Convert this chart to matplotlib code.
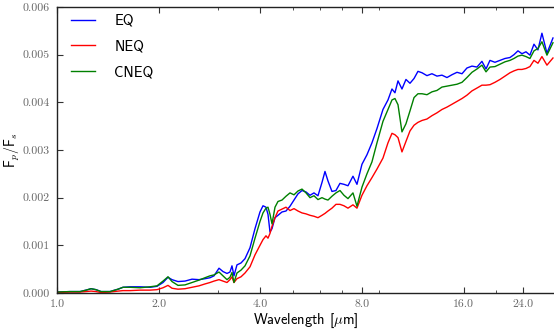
import matplotlib
matplotlib.use("Agg")
import matplotlib.pyplot as plt
from matplotlib.ticker import FixedLocator, FixedFormatter, LogLocator, NullFormatter, FormatStrFormatter

plt.rcParams['mathtext.fontset'] = 'cm'

# wavelength grid (micron)
wavelength = [1.000, 1.093, 1.170, 1.219, 1.261, 1.304, 1.350, 1.435, 1.516, 1.568,
              1.645, 1.761, 1.885, 1.977, 2.060, 2.131, 2.190, 2.281, 2.393, 2.510,
              2.632, 2.742, 2.837, 2.916, 3.017, 3.100, 3.186, 3.251, 3.296, 3.341,
              3.410, 3.505, 3.602, 3.727, 3.856, 3.989, 4.072, 4.156, 4.213, 4.271,
              4.330, 4.419, 4.510, 4.635, 4.763, 4.895, 5.030, 5.169, 5.312, 5.459,
              5.610, 5.764, 5.923, 6.088, 6.213, 6.342, 6.516, 6.696, 6.881, 7.071,
              7.267, 7.519, 7.727, 7.994, 8.271, 8.557, 8.855, 9.224, 9.545, 9.809,
              10.01, 10.22, 10.50, 10.79, 11.09, 11.40, 11.71, 12.04, 12.45, 12.88,
              13.33, 13.79, 14.27, 14.77, 15.28, 15.81, 16.35, 16.92, 17.51, 18.11,
              18.62, 19.13, 19.79, 20.48, 21.19, 21.92, 22.53, 23.15, 23.79, 24.45,
              25.12, 25.82, 26.53, 27.26, 28.21, 29.39]

eq = [0.00002, 0.00003, 0.00003, 0.00006, 0.00009, 0.00007, 0.00003, 0.00003, 0.00008, 0.00012,
      0.00013, 0.00013, 0.00012, 0.00014, 0.00022, 0.00033, 0.00028, 0.00024, 0.00025, 0.00029,
      0.00028, 0.00030, 0.00032, 0.00036, 0.00052, 0.00045, 0.00041, 0.00044, 0.00057, 0.00036,
      0.00059, 0.00063, 0.00072, 0.00095, 0.00135, 0.00170, 0.00183, 0.00180, 0.00165, 0.00128,
      0.00135, 0.00158, 0.00163, 0.00170, 0.00172, 0.00182, 0.00195, 0.00208, 0.00215, 0.00212,
      0.00205, 0.00210, 0.00204, 0.00232, 0.00255, 0.00235, 0.00213, 0.00215, 0.00230, 0.00228,
      0.00225, 0.00245, 0.00228, 0.00270, 0.00290, 0.00315, 0.00345, 0.00385, 0.00405, 0.00428,
      0.00420, 0.00445, 0.00428, 0.00448, 0.00440, 0.00450, 0.00465, 0.00462, 0.00456, 0.00460,
      0.00455, 0.00457, 0.00452, 0.00458, 0.00463, 0.00460, 0.00472, 0.00476, 0.00474, 0.00486,
      0.00470, 0.00488, 0.00484, 0.00488, 0.00492, 0.00494, 0.00500, 0.00508, 0.00502, 0.00506,
      0.00499, 0.00522, 0.00510, 0.00545, 0.00503, 0.00535]

neq = [0.00001, 0.00002, 0.00002, 0.00003, 0.00004, 0.00003, 0.00001, 0.00002, 0.00004, 0.00005,
       0.00005, 0.00006, 0.00006, 0.00007, 0.00011, 0.00016, 0.00010, 0.00008, 0.00009, 0.00012,
       0.00015, 0.00019, 0.00022, 0.00025, 0.00028, 0.00025, 0.00022, 0.00028, 0.00034, 0.00022,
       0.00030, 0.00034, 0.00042, 0.00055, 0.00080, 0.00100, 0.00112, 0.00120, 0.00115, 0.00125,
       0.00140, 0.00158, 0.00172, 0.00176, 0.00180, 0.00173, 0.00177, 0.00172, 0.00168, 0.00166,
       0.00163, 0.00161, 0.00158, 0.00163, 0.00167, 0.00172, 0.00178, 0.00186, 0.00186, 0.00183,
       0.00178, 0.00185, 0.00178, 0.00205, 0.00225, 0.00242, 0.00260, 0.00283, 0.00315, 0.00335,
       0.00332, 0.00326, 0.00296, 0.00318, 0.00340, 0.00352, 0.00358, 0.00362, 0.00365, 0.00372,
       0.00378, 0.00385, 0.00390, 0.00396, 0.00402, 0.00408, 0.00415, 0.00424, 0.00430, 0.00436,
       0.00436, 0.00437, 0.00442, 0.00448, 0.00455, 0.00462, 0.00466, 0.00469, 0.00469, 0.00471,
       0.00475, 0.00488, 0.00482, 0.00496, 0.00478, 0.00493]

cneq = [0.00002, 0.00003, 0.00003, 0.00006, 0.00009, 0.00007, 0.00003, 0.00003, 0.00008, 0.00012,
        0.00012, 0.00011, 0.00013, 0.00015, 0.00025, 0.00034, 0.00024, 0.00016, 0.00017, 0.00022,
        0.00027, 0.00032, 0.00036, 0.00038, 0.00044, 0.00036, 0.00028, 0.00033, 0.00043, 0.00022,
        0.00042, 0.00048, 0.00057, 0.00078, 0.00115, 0.00150, 0.00168, 0.00178, 0.00180, 0.00165,
        0.00145, 0.00180, 0.00192, 0.00195, 0.00203, 0.00210, 0.00206, 0.00214, 0.00218, 0.00210,
        0.00200, 0.00204, 0.00196, 0.00200, 0.00197, 0.00195, 0.00203, 0.00210, 0.00215, 0.00205,
        0.00198, 0.00210, 0.00182, 0.00222, 0.00250, 0.00275, 0.00315, 0.00360, 0.00385, 0.00405,
        0.00408, 0.00395, 0.00338, 0.00355, 0.00382, 0.00410, 0.00418, 0.00418, 0.00416, 0.00422,
        0.00425, 0.00432, 0.00434, 0.00436, 0.00438, 0.00442, 0.00452, 0.00463, 0.00470, 0.00478,
        0.00464, 0.00474, 0.00475, 0.00480, 0.00485, 0.00488, 0.00492, 0.00497, 0.00499, 0.00496,
        0.00492, 0.00508, 0.00513, 0.00527, 0.00499, 0.00525]

xticks = [1.0, 2.0, 4.0, 8.0, 16.0, 24.0]
yticks = [0.000, 0.001, 0.002, 0.003, 0.004, 0.005, 0.006]

fig = plt.figure(figsize=(5.54, 3.35), dpi=100)
ax = fig.add_axes([57 / 554, 1 - 293 / 335, 498 / 554, 286 / 335])

ax.plot(wavelength, eq, color='b', lw=1.0, label='EQ')
ax.plot(wavelength, neq, color='r', lw=1.0, label='NEQ')
ax.plot(wavelength, cneq, color='g', lw=1.0, label='CNEQ')

ax.set_xscale('log')
ax.set_xlim(1.0, 29.8)
ax.set_ylim(0, 0.006)

ax.xaxis.set_major_locator(FixedLocator(xticks))
ax.xaxis.set_major_formatter(FixedFormatter(['%.1f' % t for t in xticks]))
ax.xaxis.set_minor_locator(LogLocator(base=10, subs=range(2, 10)))
ax.xaxis.set_minor_formatter(NullFormatter())
ax.yaxis.set_major_locator(FixedLocator(yticks))
ax.yaxis.set_major_formatter(FormatStrFormatter('%.3f'))

ax.tick_params(which='both', direction='in', top=True, right=False,
               colors='#333333', labelcolor='#666666', labelsize=8.5, pad=5)
ax.tick_params(which='major', length=4, width=0.8)
ax.tick_params(which='minor', length=2, width=0.6)
for lab in ax.get_xticklabels() + ax.get_yticklabels():
    lab.set_fontfamily('cmr10')

ax.spines['right'].set_visible(False)
for s in ['left', 'bottom', 'top']:
    ax.spines[s].set_color('#222222')
    ax.spines[s].set_linewidth(1.0)

ax.set_xlabel(r'Wavelength [$\mu$m]', fontfamily='cmss10', fontsize=10.5, labelpad=2)
ax.set_ylabel(r'F$_p$/F$_s$', fontfamily='cmss10', fontsize=10)
ax.yaxis.set_label_coords(-0.07, 0.5)

leg = ax.legend(loc='upper left', bbox_to_anchor=(0.0155, 0.997), borderaxespad=0,
                frameon=False, prop={'family': 'cmss10', 'size': 10.5},
                handlelength=1.7, labelspacing=0.8, handletextpad=1.3)

fig.savefig('out.png', dpi=100)
